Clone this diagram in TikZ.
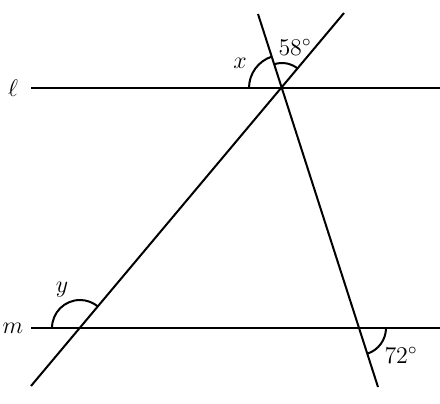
\documentclass[tikz,border=0pt]{standalone}
\usetikzlibrary{calc}
\tikzset{Line/.style={
    line width=1pt,
    draw=black
    }
}
\tikzset{AngleArc/.style={
    line width=1pt,
    draw=black
    }
}
\tikzset{Label/.style={
    inner sep=0pt,
    font=\large
    }
}
\begin{document}
\begin{tikzpicture}[x=0.5pt,y=0.5pt]
    \useasboundingbox (0,0) rectangle (440,403);

    % intersection points
    \coordinate (P) at (282,315);
    \coordinate (Q) at (80,75);
    \coordinate (R) at (359,75);

    % line ends
    \coordinate (l1) at (31,315);
    \coordinate (l2) at (440,315);
    \coordinate (m1) at (31,75);
    \coordinate (m2) at (440,75);
    \coordinate (a1) at (31,17);
    \coordinate (a2) at (344,390);
    \coordinate (b1) at (258,389);
    \coordinate (b2) at (378,16);

    \draw[Line] (l1) -- (l2);
    \draw[Line] (m1) -- (m2);
    \draw[Line] (a1) -- (a2);
    \draw[Line] (b1) -- (b2);

    % angle marks
    \draw[AngleArc] ([shift={(180:33)}]P) arc[start angle=180, end angle=108, radius=33];
    \draw[AngleArc] ([shift={(108:25)}]P) arc[start angle=108, end angle=50, radius=25];
    \draw[AngleArc] ([shift={(180:28)}]Q) arc[start angle=180, end angle=50, radius=28];
    \draw[AngleArc] ([shift={(-72:27)}]R) arc[start angle=-72, end angle=0, radius=27];

    % labels
    \node (ell) [Label] at (13,315) {$\ell$};
    \node (mlab) [Label] at (13,75) {$m$};
    \node (xlab) [Label] at (240,340) {$x$};
    \node (ang58) [Label] at (295,356) {$58^\circ$};
    \node (ylab) [Label] at (62,113) {$y$};
    \node (ang72) [Label] at (401,48) {$72^\circ$};
\end{tikzpicture}
\end{document}
